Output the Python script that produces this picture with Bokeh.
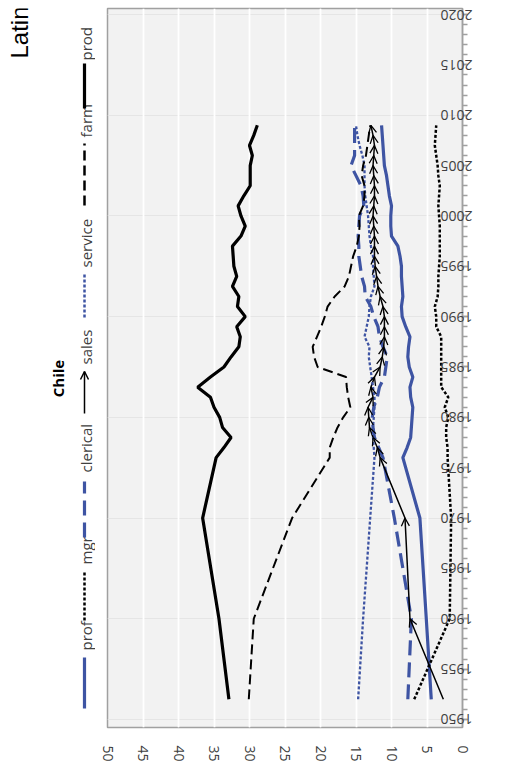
import math
from bokeh.plotting import figure
from bokeh.layouts import row
from bokeh.models import (Range1d, LinearAxis, SingleIntervalTicker, Grid,
                          Arrow, OpenHead, ColumnDataSource)
from bokeh.core.properties import value
from bokeh.embed import file_html
from bokeh.resources import INLINE

# ---------------- data (share of employment, %) ----------------
years = [1952, 1960, 1970] + list(range(1976, 2010))

prof = [4.4, 5.1, 6.0,
        8.4, 7.8, 7.3, 7.2, 7.1, 7.0, 7.3, 7.4, 7.0, 7.5,
        7.7, 7.6, 7.4, 8.0, 8.5, 8.6, 8.4, 8.5, 8.6, 8.6,
        8.8, 9.1, 10.0, 10.1, 10.1, 10.0, 10.3, 10.5, 10.7, 11.0,
        11.1, 11.2, 11.3, 11.4]
mgr = [6.8, 1.8, 1.6,
       2.1, 2.1, 2.3, 2.3, 2.0, 2.5, 2.0, 3.0, 3.0, 3.0,
       3.0, 3.0, 3.0, 3.7, 3.7, 3.9, 3.5, 3.4, 3.4, 3.3,
       3.2, 3.2, 3.2, 3.2, 3.3, 3.4, 3.3, 3.2, 3.4, 3.5,
       3.7, 3.9, 3.8, 3.7]
clerical = [7.7, 7.2, 9.6,
            11.2, 11.8, 12.4, 12.6, 12.7, 12.5, 12.0, 11.7, 11.0, 10.8,
            10.6, 11.2, 11.7, 11.9, 12.5, 12.9, 13.7, 13.8, 14.2, 14.4,
            14.6, 14.6, 14.7, 14.6, 14.5, 13.9, 14.0, 14.3, 15.0, 15.7,
            15.2, 15.2, 15.2, 15.2]
sales = [2.7, 7.4, 8.1,
         11.6, 12.0, 12.6, 13.1, 13.2, 13.3, 12.6, 12.9, 12.4, 11.6,
         11.3, 11.1, 11.0, 11.0, 11.0, 11.2, 11.6, 11.9, 12.1, 12.3,
         12.4, 12.4, 12.4, 12.5, 12.6, 12.5, 12.4, 12.4, 12.5, 12.6,
         12.5, 12.4, 12.6, 12.9]
service = [14.7, 14.0, 13.0,
           12.4, 12.5, 12.6, 12.6, 12.5, 12.4, 12.4, 12.6, 12.8, 13.0,
           13.2, 13.1, 13.8, 13.5, 13.2, 13.1, 12.9, 12.4, 12.5, 12.6,
           12.6, 12.9, 13.1, 13.2, 13.3, 13.5, 13.7, 13.8, 13.8, 13.8,
           14.1, 14.5, 14.8, 15.0]
farm = [30.1, 29.4, 24.0,
        18.7, 18.7, 18.2, 17.6, 16.8, 15.8, 16.1, 16.3, 16.4, 20.4,
        20.9, 21.1, 20.5, 19.9, 19.4, 19.0, 18.0, 16.6, 16.0, 15.7,
        15.4, 14.9, 14.6, 14.5, 14.6, 14.0, 13.8, 13.8, 14.2, 14.0,
        13.6, 13.4, 13.2, 13.0]
prod = [32.9, 34.3, 36.6,
        34.7, 33.6, 32.6, 33.8, 34.2, 35.0, 35.5, 37.3, 35.5, 33.6,
        32.6, 31.5, 31.3, 31.8, 30.6, 31.7, 31.5, 32.4, 31.8, 32.2,
        32.3, 32.4, 31.2, 30.6, 31.2, 31.6, 30.8, 29.9, 29.9, 29.9,
        29.6, 30.0, 29.4, 28.9]

series_names = ["prof", "mgr", "clerical", "sales", "service", "farm", "prod"]
title_text = "Chile"
super_title = "Latin America"

BLUE = "#3E54A3"
BLACK = "#000000"
GRAY = "#A0A0A0"
TXT = "#404040"
FONT = "Open Sans"

styles = {
    "prof":     dict(line_color=BLUE,  line_width=3.2, line_dash="solid"),
    "mgr":      dict(line_color=BLACK, line_width=2.5, line_dash="3 2"),
    "clerical": dict(line_color=BLUE,  line_width=3.2, line_dash="15 7"),
    "sales":    dict(line_color=BLACK, line_width=1.5, line_dash="solid"),
    "service":  dict(line_color=BLUE,  line_width=2.3, line_dash="3 2"),
    "farm":     dict(line_color=BLACK, line_width=2.0, line_dash="10 5"),
    "prod":     dict(line_color=BLACK, line_width=3.2, line_dash="solid"),
}
values = dict(prof=prof, mgr=mgr, clerical=clerical, sales=sales,
              service=service, farm=farm, prod=prod)

H = 765          # total height (px)
LW = 95          # width of the legend / title strip
TOP, BOT = 8, 38 # borders above / below the plotting area

# ---------------- main chart ----------------
p = figure(width=415, height=H,
           x_range=Range1d(50, 0), y_range=Range1d(1949.2, 2020.6),
           output_backend="svg", toolbar_location=None,
           x_axis_location=None, y_axis_location=None,
           min_border_left=12, min_border_right=48,
           min_border_top=TOP, min_border_bottom=BOT)
p.background_fill_color = "#F2F2F2"
p.border_fill_color = "white"
p.outline_line_color = GRAY
p.outline_line_width = 1.5

xt = SingleIntervalTicker(interval=5)
xaxis = LinearAxis(ticker=xt, major_label_orientation="vertical",
                   axis_line_color=None, major_tick_line_color=None,
                   minor_tick_line_color=None,
                   major_label_text_font=FONT, major_label_text_font_size="14px",
                   major_label_text_color=TXT, major_label_standoff=12)
p.add_layout(xaxis, "below")
p.add_layout(Grid(dimension=0, ticker=xt, grid_line_color="white", grid_line_width=1.8))

yt = SingleIntervalTicker(interval=5, num_minor_ticks=5)
yaxis = LinearAxis(ticker=yt, major_label_orientation=math.pi,
                   axis_line_color=GRAY, axis_line_width=1.5,
                   major_tick_line_color=GRAY, major_tick_line_width=1.5,
                   minor_tick_line_color=GRAY, minor_tick_line_width=1.5,
                   major_tick_out=5, major_tick_in=0,
                   minor_tick_out=5, minor_tick_in=0,
                   major_label_text_font=FONT, major_label_text_font_size="14px",
                   major_label_text_color=TXT, major_label_standoff=5)
p.add_layout(yaxis, "right")

for name in series_names:
    p.line(values[name], years, **styles[name])

# arrow markers on the sales series
src = ColumnDataSource(dict(x0=sales[:-1], y0=years[:-1], x1=sales[1:], y1=years[1:]))
p.add_layout(Arrow(source=src, x_start="x0", y_start="y0", x_end="x1", y_end="y1",
                   line_alpha=0,
                   end=OpenHead(size=8, line_width=1.3, line_color=BLACK)))

# ---------------- legend / title strip (pixel coordinates, y = H - page_y) ----------------
lg = figure(width=LW, height=H, x_range=Range1d(0, LW), y_range=Range1d(BOT, H - TOP),
            output_backend="svg", toolbar_location=None,
            x_axis_location=None, y_axis_location=None,
            min_border_left=0, min_border_right=0,
            min_border_top=TOP, min_border_bottom=BOT)
lg.outline_line_color = None
lg.background_fill_color = "white"
lg.border_fill_color = "white"
lg.xgrid.visible = False
lg.ygrid.visible = False

# (name, line bottom, line top, text start) measured from the top of the page
leg = [("prof", 708, 657, 650),
       ("mgr", 620, 571, 564),
       ("clerical", 537, 481, 472),
       ("sales", 413, 371, 364),
       ("service", 317, 272, 267),
       ("farm", 205, 143, 137),
       ("prod", 108, 63, 60)]
LX = 84
for name, yb, ytop, ys in leg:
    st = styles[name]
    lw = 1.5 if name == "sales" else max(st["line_width"], 2.5)
    lg.segment(x0=[LX], y0=[H - yb], x1=[LX], y1=[H - ytop],
               line_color=st["line_color"], line_width=lw, line_dash=st["line_dash"])
    if name == "sales":
        lg.add_layout(Arrow(x_start=LX, y_start=H - yb, x_end=LX, y_end=H - ytop,
                            line_alpha=0,
                            end=OpenHead(size=8, line_width=1.5, line_color=BLACK)))
    lg.text(x=[LX + 1], y=[H - ys], text=[name], angle=math.pi / 2,
            text_align="left", text_baseline="middle",
            text_font=value(FONT), text_font_size="15px", text_color=TXT)

lg.text(x=[57], y=[H - 378], text=[title_text], angle=math.pi / 2,
        text_align="center", text_baseline="middle",
        text_font=value(FONT), text_font_size="15px", text_font_style="bold",
        text_color=BLACK)
lg.text(x=[19], y=[H - 58], text=[super_title], angle=math.pi / 2,
        text_align="left", text_baseline="middle",
        text_font=value("Liberation Sans"), text_font_size="24px",
        text_color=BLACK)

layout = row(lg, p, spacing=0)
open("out.html", "w").write(file_html(layout, INLINE))
